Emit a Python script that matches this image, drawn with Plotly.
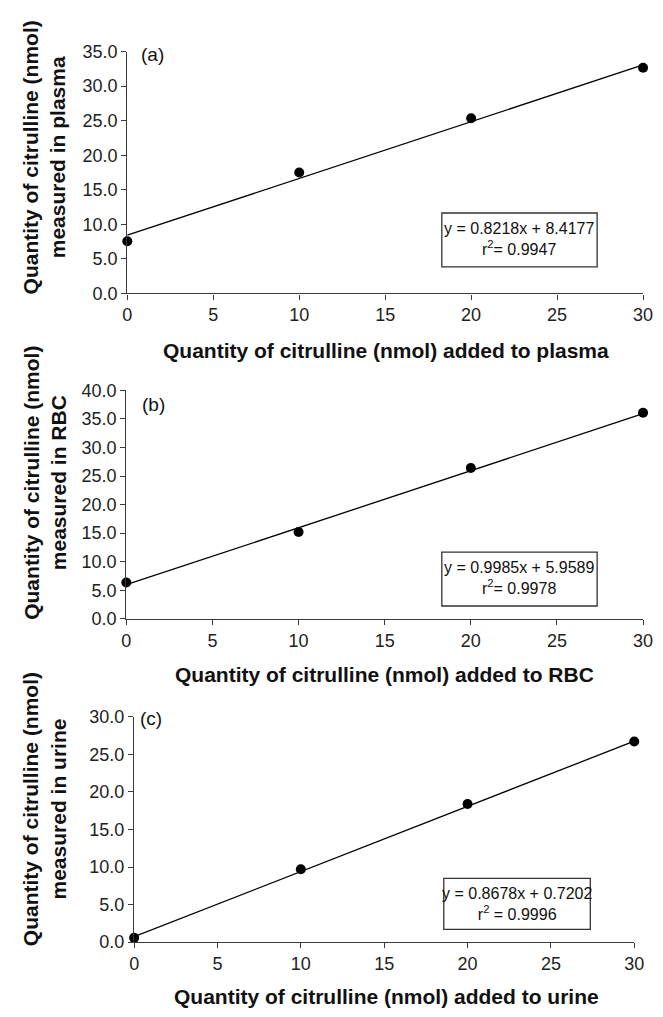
import plotly.graph_objects as go

# page is 663x1017; body keeps its default 8px margin, so the figure is 16px smaller
PAGE_W, PAGE_H = 663, 1017
OFF = 8
W, H = PAGE_W - 2 * OFF, PAGE_H - 2 * OFF

# ---- data ----
added = [0, 10, 20, 30]
plasma_measured = [7.56, 17.5, 25.35, 32.67]
rbc_measured = [6.35, 15.2, 26.4, 36.1]
urine_measured = [0.57, 9.7, 18.4, 26.7]

slopes = [0.8218, 0.9985, 0.8678]
intercepts = [8.4177, 5.9589, 0.7202]
r2_values = ["0.9947", "0.9978", "0.9996"]
panel_labels = ["(a)", "(b)", "(c)"]
x_titles = ["Quantity of citrulline (nmol) added to plasma",
            "Quantity of citrulline (nmol) added to RBC",
            "Quantity of citrulline (nmol) added to urine"]
y_titles = ["Quantity of citrulline (nmol)<br>measured in plasma",
            "Quantity of citrulline (nmol)<br>measured in RBC",
            "Quantity of citrulline (nmol)<br>measured in urine"]
y_max = [35, 40, 30]
x_ticks = [0, 5, 10, 15, 20, 25, 30]

series = [plasma_measured, rbc_measured, urine_measured]

# ---- layout (page pixel geometry) ----
px_x = [(125, 653), (124, 653), (132, 644)]
px_y = [(42.3, 289), (388, 621), (721, 951)]
boxes = [(447, 606, 207, 262), (447, 606, 553, 608), (449, 599, 886, 938)]
box_text_c = [(526.5, 233), (526.5, 579.5), (524, 912)]
lab_pos = [(137, 45), (138, 402), (136, 723)]
xt_pos = [(390, 347), (388, 678), (390, 1006)]
yt_pos = [(40, 150), (40, 482), (40, 815)]


def fx(p):
    return (p - OFF) / W


def fy(p):
    return 1 - (p - OFF) / H


FONT = "Liberation Sans, Arial, sans-serif"
AX = "#3a3a3a"

fig = go.Figure()
annotations = []
shapes = []

for i in range(3):
    sfx = "" if i == 0 else str(i + 1)
    xa, ya = "x" + sfx, "y" + sfx
    xs = [0, 30]
    ys = [slopes[i] * v + intercepts[i] for v in xs]
    fig.add_trace(go.Scatter(x=xs, y=ys, mode="lines", xaxis=xa, yaxis=ya,
                             line=dict(color="black", width=1.3),
                             showlegend=False, hoverinfo="skip", cliponaxis=False))
    fig.add_trace(go.Scatter(x=added, y=series[i], mode="markers", xaxis=xa, yaxis=ya,
                             marker=dict(color="black", size=10),
                             showlegend=False, cliponaxis=False))

    axis_common = dict(showgrid=False, zeroline=False, showline=True,
                       linecolor=AX, linewidth=1.3, ticks="outside",
                       ticklen=5, tickwidth=1.2, tickcolor=AX,
                       tickfont=dict(family=FONT, size=18, color="#222"))
    fig.update_layout(**{
        "xaxis" + sfx: dict(domain=[fx(px_x[i][0]), fx(px_x[i][1])], range=[0, 30],
                            anchor=ya, tickvals=x_ticks, **axis_common),
        "yaxis" + sfx: dict(domain=[fy(px_y[i][1]), fy(px_y[i][0])], range=[0, y_max[i]],
                            anchor=xa, dtick=5, tickformat=".1f", **axis_common),
    })

    x0, x1, y0, y1 = boxes[i]
    shapes.append(dict(type="rect", xref="paper", yref="paper",
                       x0=fx(x0), x1=fx(x1), y0=fy(y1), y1=fy(y0),
                       line=dict(color="#333", width=1.3)))
    sep = "=" if i < 2 else " ="
    annotations.append(dict(xref="paper", yref="paper",
                            x=fx(box_text_c[i][0]), y=fy(box_text_c[i][1]),
                            xanchor="center", yanchor="middle", showarrow=False,
                            align="center",
                            text=f"y = {slopes[i]:.4f}x + {intercepts[i]:.4f}<br>r<sup>2</sup>{sep} {r2_values[i]}",
                            font=dict(family=FONT, size=16, color="#111")))
    annotations.append(dict(xref="paper", yref="paper",
                            x=fx(lab_pos[i][0]), y=fy(lab_pos[i][1]),
                            xanchor="left", yanchor="middle", showarrow=False,
                            text=panel_labels[i],
                            font=dict(family=FONT, size=19, color="#111")))
    annotations.append(dict(xref="paper", yref="paper",
                            x=fx(xt_pos[i][0]), y=fy(xt_pos[i][1]),
                            xanchor="center", yanchor="middle", showarrow=False,
                            text=f"<b>{x_titles[i]}</b>",
                            font=dict(family=FONT, size=21, color="#111")))
    annotations.append(dict(xref="paper", yref="paper",
                            x=fx(yt_pos[i][0]), y=fy(yt_pos[i][1]),
                            xanchor="center", yanchor="middle", showarrow=False,
                            textangle=-90, align="center",
                            text=f"<b>{y_titles[i]}</b>",
                            font=dict(family=FONT, size=21, color="#111")))

fig.update_layout(width=W, height=H, margin=dict(l=0, r=0, t=0, b=0),
                  paper_bgcolor="white", plot_bgcolor="white",
                  annotations=annotations, shapes=shapes,
                  font=dict(family=FONT))

fig.write_html("out.html", config={"displayModeBar": False})
